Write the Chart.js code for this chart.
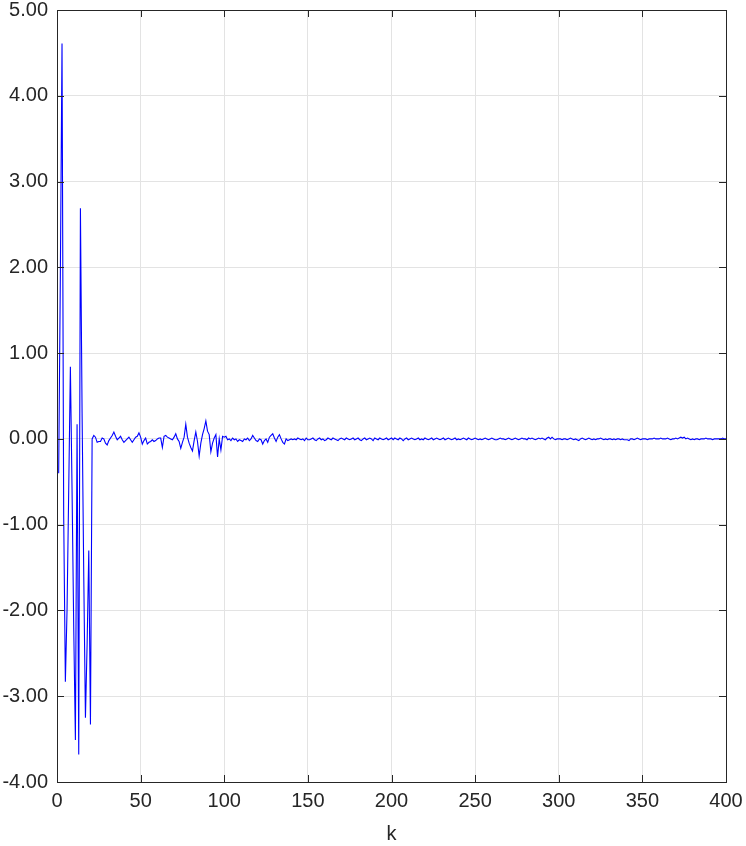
<!DOCTYPE html>
<html>
<head>
<meta charset="utf-8">
<script src="https://cdn.jsdelivr.net/npm/chart.js@4"></script>
<style>
  html, body { margin: 0; padding: 0; background: #ffffff; }
  #wrap { width: 746px; height: 846px; position: relative; }
</style>
</head>
<body>
<div id="wrap"><canvas id="c" width="746" height="846"></canvas></div>
<script>
// First sample index on the k axis
const kFirst = 1;
// k = 1..22 : large initial oscillation
const burst = [-0.40, 1.90, 4.61, -0.90, -2.83, -2.00, -0.60, 0.84, -0.60, -2.20,
  -3.51, 0.17, -3.68, 2.69, 0.30, -1.60, -3.25, -2.40, -1.30, -3.33,
  0.00, 0.04];
// k = 23..100 : ringing
const ringing = [0.02, -0.04, -0.03, -0.03, 0.01, 0.00, -0.05, -0.07, -0.02, 0.01,
  0.04, 0.08, 0.03, -0.01, 0.01, 0.03, -0.01, -0.04, -0.02, 0.00,
  0.02, -0.01, -0.04, -0.01, 0.02, 0.03, 0.07, 0.02, -0.06, -0.02,
  0.01, -0.06, -0.04, -0.03, -0.01, -0.03, -0.02, 0.00, 0.01, 0.01,
  -0.10, 0.03, 0.04, 0.02, 0.01, 0.00, -0.01, 0.02, 0.06, 0.00,
  -0.03, -0.11, -0.04, 0.02, 0.17, 0.02, -0.05, -0.10, -0.14, -0.02,
  0.08, -0.03, -0.20, -0.05, 0.05, 0.12, 0.21, 0.09, 0.05, -0.15,
  -0.05, 0.01, 0.05, -0.21, 0.00, -0.13, 0.03, 0.02];
// k = 101..150 : settling
const settle = [0.03, -0.01, 0.00, -0.02, 0.01, -0.01, 0.00, -0.03, -0.01, -0.02,
  -0.03, 0.00, -0.01, 0.01, -0.02, 0.00, 0.04, 0.01, -0.02, -0.03,
  0.00, -0.01, -0.06, -0.02, 0.00, -0.04, 0.02, 0.04, 0.06, 0.01,
  -0.03, 0.02, 0.05, 0.00, -0.04, -0.06, 0.00, -0.02, -0.01, 0.00,
  -0.01, 0.00, -0.01, 0.01, 0.00, -0.01, 0.00, -0.02, 0.01, -0.01];
// k = 151..400 : residual noise
const tail = [
  -0.01, 0.00, 0.01, -0.01, -0.02, 0.00, 0.01, -0.01, 0.00, -0.02, -0.01, 0.01, 0.00, -0.01, 0.01, 0.00, -0.01, -0.02, 0.00, 0.01, 0.00, -0.01, 0.01, 0.00, -0.01,
  0.00, 0.01, -0.01, 0.00, 0.01, -0.01, -0.02, 0.00, 0.01, -0.01, 0.00, 0.01, 0.00, -0.02, 0.01, 0.00, -0.01, 0.01, 0.00, -0.01, 0.00, 0.01, -0.01, 0.00, 0.01,
  -0.01, 0.01, 0.00, -0.01, 0.01, 0.00, -0.02, 0.00, 0.01, -0.01, 0.00, 0.01, 0.00, -0.01, 0.00, 0.01, -0.01, 0.00, -0.01, 0.01, 0.00, -0.01, 0.00, 0.01, -0.01,
  0.00, 0.01, 0.00, -0.01, 0.00, 0.01, -0.01, 0.00, 0.01, 0.00, -0.01, 0.00, 0.01, -0.01, 0.00, -0.01, 0.00, 0.01, 0.00, -0.01, 0.01, 0.00, -0.01, 0.00, 0.01,
  0.00, -0.01, 0.00, -0.01, 0.00, 0.01, 0.00, -0.01, 0.00, 0.01, 0.00, -0.01, -0.01, 0.00, 0.01, 0.00, 0.00, -0.01, 0.00, 0.01, 0.00, -0.01, 0.00, 0.01, 0.00,
  -0.01, 0.00, 0.01, 0.00, 0.00, -0.01, 0.01, 0.00, 0.01, 0.00, -0.01, 0.00, 0.01, 0.00, 0.01, 0.00, -0.01, 0.01, 0.02, 0.00, 0.02, 0.00, -0.01, 0.00, 0.00,
  0.00, -0.01, 0.00, 0.00, -0.01, 0.00, 0.01, 0.00, -0.01, 0.00, -0.01, -0.02, 0.00, 0.01, 0.00, -0.01, 0.00, 0.01, 0.00, -0.01, 0.00, -0.01, 0.00, 0.00, 0.01,
  0.00, -0.01, 0.00, -0.01, 0.00, 0.00, -0.01, 0.00, -0.01, 0.00, 0.00, -0.01, 0.00, -0.01, -0.01, -0.01, -0.02, 0.00, 0.00, -0.01, 0.00, 0.01, 0.00, -0.01, 0.00,
  0.00, 0.00, -0.01, 0.00, 0.00, 0.00, 0.01, 0.00, 0.00, 0.00, 0.01, 0.00, 0.00, 0.00, 0.01, 0.00, -0.01, 0.00, 0.00, 0.01, 0.00, 0.01, 0.02, 0.01, 0.02,
  0.00, 0.01, 0.00, -0.01, 0.00, -0.01, 0.00, 0.00, -0.01, 0.00, 0.00, 0.00, 0.01, 0.00, 0.00, 0.00, -0.01, 0.00, 0.00, 0.00, 0.00, 0.00, 0.01, 0.00, 0.00
];
// Axis ticks
const xTicks = [0, 50, 100, 150, 200, 250, 300, 350, 400];
const yTicks = [-4, -3, -2, -1, 0, 1, 2, 3, 4, 5];
const xTitle = 'k';

const values = burst.concat(ringing, settle, tail);
const points = values.map((v, i) => ({ x: kFirst + i, y: v }));

const FONT = '"Liberation Sans", Arial, sans-serif';
const TXT = '#262626';

const boxPlugin = {
  id: 'boxTicks',
  afterDraw(chart) {
    const { ctx, chartArea: a, scales } = chart;
    const L = 7;
    ctx.save();
    ctx.strokeStyle = '#262626';
    ctx.lineWidth = 1;
    ctx.beginPath();
    xTicks.forEach(t => {
      const px = Math.round(scales.x.getPixelForValue(t)) + 0.5;
      ctx.moveTo(px, a.bottom); ctx.lineTo(px, a.bottom - L);
      ctx.moveTo(px, a.top); ctx.lineTo(px, a.top + L);
    });
    yTicks.forEach(t => {
      const py = Math.round(scales.y.getPixelForValue(t)) + 0.5;
      ctx.moveTo(a.left, py); ctx.lineTo(a.left + L, py);
      ctx.moveTo(a.right, py); ctx.lineTo(a.right - L, py);
    });
    ctx.stroke();
    ctx.strokeRect(Math.round(a.left) + 0.5, Math.round(a.top) + 0.5,
      Math.round(a.right - a.left), Math.round(a.bottom - a.top));
    ctx.restore();
  }
};

new Chart(document.getElementById('c'), {
  type: 'line',
  data: {
    datasets: [{
      data: points,
      borderColor: '#0000ff',
      borderWidth: 1.1,
      pointRadius: 0,
      tension: 0,
      fill: false
    }]
  },
  options: {
    responsive: false,
    animation: false,
    layout: { padding: { top: 10, right: 20, left: 0, bottom: 0 } },
    plugins: { legend: { display: false }, tooltip: { enabled: false } },
    scales: {
      x: {
        type: 'linear',
        min: 0, max: 400,
        afterBuildTicks(s) { s.ticks = xTicks.map(v => ({ value: v })); },
        afterFit(s) { s.height = 64; s.paddingLeft = 0; s.paddingRight = 0; },
        grid: { color: '#e3e3e3', drawTicks: false },
        border: { display: false },
        ticks: { color: TXT, font: { family: FONT, size: 20 }, padding: 7, maxRotation: 0 },
        title: { display: true, text: xTitle, color: TXT, font: { family: FONT, size: 20 }, padding: { top: 0, bottom: 0 } }
      },
      y: {
        min: -4, max: 5,
        afterBuildTicks(s) { s.ticks = yTicks.map(v => ({ value: v })); },
        afterFit(s) { s.width = 57; s.paddingTop = 0; s.paddingBottom = 0; },
        grid: { color: '#e3e3e3', drawTicks: false },
        border: { display: false },
        ticks: { color: TXT, font: { family: FONT, size: 20 }, padding: 9, callback: v => Number(v).toFixed(2) }
      }
    }
  },
  plugins: [boxPlugin]
});
</script>
</body>
</html>
